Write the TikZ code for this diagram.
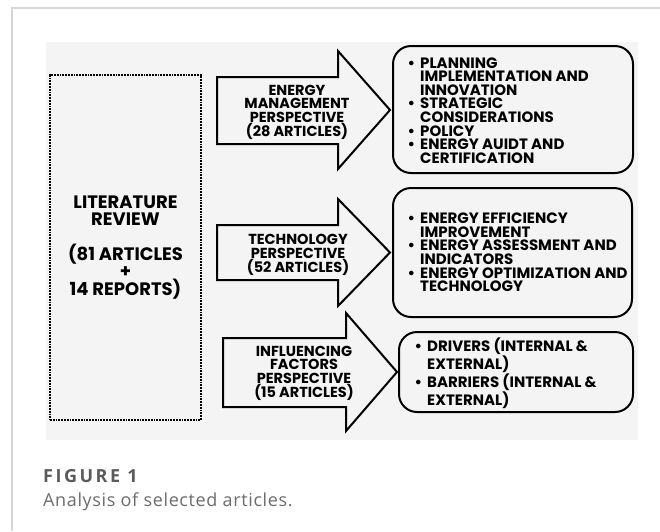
\documentclass[tikz,border=0pt]{standalone}
\usepackage{fontspec}
\usepackage{xcolor}
\usepackage{tikz}
\usetikzlibrary{positioning}
\newfontfamily\diafont{Poppins}
\newfontfamily\capfont{Open Sans}[LetterSpace=3.5]
\newfontfamily\capboldfont{Open Sans}[LetterSpace=14]
\definecolor{panel}{HTML}{F4F4F4}
\definecolor{framegray}{HTML}{D6D6D6}
\definecolor{capgray}{HTML}{5A5A5A}
\definecolor{captext}{HTML}{6C6C6C}
\newcommand{\bul}{\llap{\textbullet\hspace{5pt}}}

\begin{document}
\begin{tikzpicture}[x=1pt,y=-1pt,
  shapeline/.style={draw=black,line width=2pt,fill=panel},
  dotbox/.style={draw=black,line width=1.8pt,densely dotted,fill=panel,inner sep=0pt,
    align=center,font=\diafont\bfseries\fontsize{18}{17.3}\selectfont},
  listbox/.style={shapeline,rounded corners=18pt,inner sep=0pt},
  listtext/.style={inner sep=0pt,anchor=west,align=left,
    font=\diafont\bfseries\fontsize{15}{13.6}\selectfont},
  arrowtext/.style={inner sep=0pt,align=center,
    font=\diafont\bfseries\fontsize{14.5}{13.2}\selectfont}]
  \useasboundingbox (0,0) rectangle (660,531);
  \draw[framegray,line width=1.5pt] (12,531) -- (12,8) -- (660,8);
  \fill[panel] (46,42) rectangle (638,440);

  \node[dotbox,minimum width=151pt,minimum height=345pt] (review) at (125.5,247.5)
    {LITERATURE\\REVIEW\\[17.3pt](81 ARTICLES\\+\\14 REPORTS)};

  \draw[shapeline] (217,77) -- (338,77) -- (338,51) -- (390,110) -- (338,169) -- (338,144) -- (217,144) -- cycle;
  \draw[shapeline] (217,225) -- (338,225) -- (338,199) -- (390,252.5) -- (338,306) -- (338,280) -- (217,280) -- cycle;
  \draw[shapeline] (223,338) -- (346,338) -- (346,313) -- (397,372) -- (346,431) -- (346,407) -- (223,407) -- cycle;
  \node[arrowtext] (mgmt) at (297,112.5) {ENERGY\\MANAGEMENT\\PERSPECTIVE\\(28 ARTICLES)};
  \node[arrowtext] (tech) at (298,255) {TECHNOLOGY\\PERSPECTIVE\\(52 ARTICLES)};
  \node[arrowtext] (factors) at (304,373.5) {INFLUENCING\\FACTORS\\PERSPECTIVE\\(15 ARTICLES)};

  \node[listbox,minimum width=240pt,minimum height=127pt] (mgmtbox) at (513,109.5) {};
  \node[listbox,minimum width=239pt,minimum height=129pt] (techbox) at (512.5,252.5) {};
  \node[listbox,minimum width=234pt,minimum height=80pt] (factorsbox) at (516,372) {};
  \node[listtext] (mgmtitems) at ([xshift=28pt,yshift=-1pt]mgmtbox.west)
    {\bul PLANNING\\IMPLEMENTATION AND\\INNOVATION\\\bul STRATEGIC\\CONSIDERATIONS\\\bul POLICY\\\bul ENERGY AUIDT AND\\CERTIFICATION};
  \node[listtext] (techitems) at ([xshift=28pt]techbox.west)
    {\bul ENERGY EFFICIENCY\\IMPROVEMENT\\\bul ENERGY ASSESSMENT AND\\INDICATORS\\\bul ENERGY OPTIMIZATION AND\\TECHNOLOGY};
  \node[listtext] (factorsitems) at ([xshift=29pt,yshift=-1pt]factorsbox.west)
    {\bul DRIVERS (INTERNAL \&\\EXTERNAL)\\\bul BARRIERS (INTERNAL \&\\EXTERNAL)};

  \node[anchor=base west,inner sep=0pt,text=capgray,font=\capboldfont\bfseries\fontsize{18}{20}\selectfont] (figlabel) at (43,482) {FIGURE 1};
  \node[anchor=base west,inner sep=0pt,text=captext,font=\capfont\fontsize{18}{20}\selectfont] (figtext) at (43,506) {Analysis of selected articles.};
\end{tikzpicture}
\end{document}
